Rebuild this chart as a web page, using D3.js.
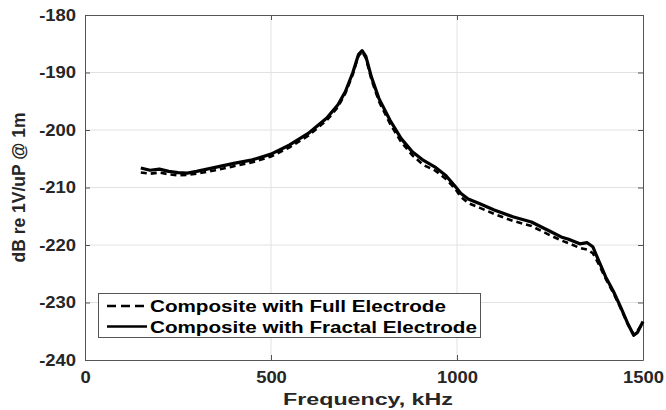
<!DOCTYPE html>
<html>
<head>
<meta charset="utf-8">
<script src="https://cdn.jsdelivr.net/npm/d3@7"></script>
<style>
  body { margin: 0; background: #fff; }
  svg { display: block; font-family: "Liberation Sans", Arial, sans-serif; font-weight: bold; }
</style>
</head>
<body>
<svg id="chart" width="666" height="410"></svg>
<script>
// frequency axis (kHz)
const freq = [150, 175, 200, 225, 250, 275, 300, 350, 400, 450, 500, 550, 600, 650, 680, 700, 720, 735, 745, 755,
  770, 790, 820, 850, 880, 910, 940, 970, 995, 1010, 1030, 1060, 1100, 1150, 1200, 1250, 1280, 1300, 1330, 1350,
  1365, 1380, 1400, 1420, 1440, 1460, 1475, 1485, 1500];

// Composite with Full Electrode (dashed)
const fullElectrode = [-207.4, -207.6, -207.4, -207.7, -207.9, -207.8, -207.6, -207.0, -206.3, -205.6, -204.6, -203.0,
  -201.0, -198.3, -196.0, -193.6, -190.3, -187.1, -186.4, -187.5, -191.2, -195.0, -198.9, -202.1, -204.4, -206.1,
  -207.0, -208.5, -210.2, -211.6, -212.7, -213.5, -214.6, -215.8, -216.7, -218.3, -219.2, -219.7, -220.5, -220.8,
  -221.4, -223.2, -225.9, -228.3, -231.0, -233.9, -235.6, -235.0, -233.4];

// Composite with Fractal Electrode (solid)
const fractalElectrode = [-206.6, -207.0, -206.8, -207.2, -207.4, -207.5, -207.2, -206.5, -205.8, -205.2, -204.2, -202.6,
  -200.6, -197.9, -195.6, -193.3, -190.0, -186.9, -186.2, -187.2, -190.8, -194.5, -198.3, -201.5, -203.8, -205.3,
  -206.4, -207.9, -209.8, -211.0, -212.0, -212.8, -213.9, -215.1, -216.0, -217.6, -218.6, -219.0, -219.8, -219.6,
  -220.3, -222.6, -225.6, -228.0, -230.8, -233.8, -235.7, -235.2, -233.3];

const xTicks = [0, 500, 1000, 1500];
const yTicks = [-240, -230, -220, -210, -200, -190, -180];
const seriesNames = ['Composite with Full Electrode', 'Composite with Fractal Electrode'];

const m = { left: 85, top: 15, right: 643, bottom: 360 };
const svg = d3.select('#chart');
const ink = '#262626';

const x = d3.scaleLinear().domain([0, 1500]).range([m.left, m.right]);
const y = d3.scaleLinear().domain([-240, -180]).range([m.bottom, m.top]);

// the original figure is stretched sideways, so widen horizontal text a bit
function widen(sel, k) {
  sel.each(function () {
    const w = this.getComputedTextLength();
    d3.select(this).attr('textLength', w * k).attr('lengthAdjust', 'spacingAndGlyphs');
  });
}

// grid
const grid = svg.append('g').attr('stroke', '#e2e2e2').attr('stroke-width', 1);
grid.selectAll('.gx').data(xTicks.slice(1, -1)).join('line')
  .attr('x1', d => x(d)).attr('x2', d => x(d)).attr('y1', m.top).attr('y2', m.bottom);
grid.selectAll('.gy').data(yTicks.slice(1, -1)).join('line')
  .attr('x1', m.left).attr('x2', m.right).attr('y1', d => y(d)).attr('y2', d => y(d));

// axes (ticks inward, labels outside)
const axisColor = '#555';
const fmt = d => String(d);
const gxB = svg.append('g').attr('transform', `translate(0,${m.bottom})`)
  .call(d3.axisBottom(x).tickValues(xTicks).tickSizeInner(-5).tickSizeOuter(0).tickPadding(12).tickFormat(fmt));
const gxT = svg.append('g').attr('transform', `translate(0,${m.top})`)
  .call(d3.axisTop(x).tickValues(xTicks).tickSizeInner(-5).tickSizeOuter(0).tickFormat(''));
const gyL = svg.append('g').attr('transform', `translate(${m.left},0)`)
  .call(d3.axisLeft(y).tickValues(yTicks).tickSizeInner(-5).tickSizeOuter(0).tickPadding(9).tickFormat(fmt));
const gyR = svg.append('g').attr('transform', `translate(${m.right},0)`)
  .call(d3.axisRight(y).tickValues(yTicks).tickSizeInner(-5).tickSizeOuter(0).tickFormat(''));

[gxB, gxT, gyL, gyR].forEach(g => {
  g.select('.domain').attr('stroke', axisColor);
  g.selectAll('.tick line').attr('stroke', axisColor);
  g.selectAll('text').attr('fill', ink).attr('font-size', 16).attr('font-weight', 'bold')
    .attr('font-family', '"Liberation Sans", Arial, sans-serif');
});
widen(gxB.selectAll('text'), 1.15);
widen(gyL.selectAll('text'), 1.15);

// axis labels
const xLab = svg.append('text').attr('x', 368).attr('y', 405).attr('text-anchor', 'middle')
  .attr('font-size', 16).attr('fill', ink).text('Frequency, kHz');
widen(xLab, 1.45);
svg.append('text').attr('transform', `translate(25,${(m.top + m.bottom) / 2}) rotate(-90)`)
  .attr('text-anchor', 'middle').attr('font-size', 17.5).attr('fill', ink).text('dB re 1V/uP @ 1m');

// curves
const line = d3.line().x((d, i) => x(freq[i])).y(d => y(d));
svg.append('path').datum(fullElectrode).attr('d', line)
  .attr('fill', 'none').attr('stroke', '#000').attr('stroke-width', 2.6).attr('stroke-dasharray', '6,4');
svg.append('path').datum(fractalElectrode).attr('d', line)
  .attr('fill', 'none').attr('stroke', '#000').attr('stroke-width', 3.2).attr('stroke-linejoin', 'round');

// legend
const lg = svg.append('g');
lg.append('rect').attr('x', 98.5).attr('y', 293.5).attr('width', 382).attr('height', 44)
  .attr('fill', '#fff').attr('stroke', '#555').attr('stroke-width', 1);
seriesNames.forEach((name, i) => {
  const ly = 306 + i * 20.5;
  lg.append('line').attr('x1', 107).attr('x2', 147).attr('y1', ly).attr('y2', ly)
    .attr('stroke', '#000').attr('stroke-width', 2.3)
    .attr('stroke-dasharray', i === 0 ? '9,5' : null);
  const t = lg.append('text').attr('x', 150).attr('y', ly + 6).attr('font-size', 16).attr('fill', '#000').text(name);
  widen(t, 1.29);
});
</script>
</body>
</html>
